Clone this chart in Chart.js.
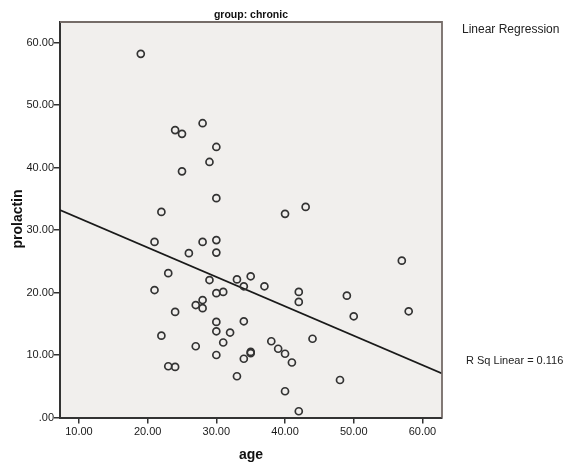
<!DOCTYPE html>
<html>
<head>
<meta charset="utf-8">
<script src="https://cdn.jsdelivr.net/npm/chart.js@4/dist/chart.umd.min.js"></script>
<style>
  html, body { margin: 0; padding: 0; background: #ffffff; }
  #wrap { width: 565px; height: 463px; }
</style>
</head>
<body>
<div id="wrap"><canvas id="scatter" width="565" height="463"></canvas></div>
<script>
const ages = [19, 28, 24, 25, 30, 29, 25, 30, 22, 21, 28, 30, 26, 30, 23, 29, 33, 21, 30, 31,
  28, 27, 28, 24, 30, 30, 32, 22, 31, 27, 30, 23, 24, 33, 40, 43, 35, 34, 37, 42,
  42, 49, 50, 34, 44, 38, 39, 40, 35, 35, 34, 41, 48, 40, 42, 57, 58];
const prolactin = [58.2, 47.1, 46.0, 45.4, 43.3, 40.9, 39.4, 35.1, 32.9, 28.1, 28.1, 28.4, 26.3, 26.4, 23.1, 22.0, 22.1, 20.4, 19.9, 20.1,
  18.8, 18.0, 17.5, 16.9, 15.3, 13.8, 13.6, 13.1, 12.0, 11.4, 10.0, 8.2, 8.1, 6.6, 32.6, 33.7, 22.6, 21.0, 21.0, 20.1,
  18.5, 19.5, 16.2, 15.4, 12.6, 12.2, 11.0, 10.2, 10.5, 10.3, 9.4, 8.8, 6.0, 4.2, 1.0, 25.1, 17.0];

// fit line ends
const fitAge = [7.24, 62.85];
const fitProlactin = [33.2, 7.05];

const xTicks = [10, 20, 30, 40, 50, 60];
const yTicks = [0, 10, 20, 30, 40, 50, 60];

const chartTitle = 'group: chronic';
const xTitle = 'age';
const yTitle = 'prolactin';
const legendTitle = 'Linear Regression';
const rSquareLabel = 'R Sq Linear = 0.116';

const points = ages.map((a, i) => ({ x: a, y: prolactin[i] }));
const fitPoints = fitAge.map((a, i) => ({ x: a, y: fitProlactin[i] }));

const fmt = (v) => (v === 0 ? '.00' : v.toFixed(2));
const fontFamily = '"Liberation Sans", Arial, sans-serif';

const framePlugin = {
  id: 'frame',
  beforeDraw(chart) {
    const { ctx, chartArea: a } = chart;
    ctx.save();
    ctx.fillStyle = '#f1efed';
    ctx.fillRect(a.left, a.top, a.right - a.left, a.bottom - a.top);
    ctx.restore();
  },
  afterDraw(chart) {
    const { ctx, chartArea: a } = chart;
    ctx.save();
    ctx.strokeStyle = '#756c68';
    ctx.lineWidth = 1.8;
    ctx.beginPath();
    ctx.moveTo(a.left, a.top);
    ctx.lineTo(a.right, a.top);
    ctx.lineTo(a.right, a.bottom);
    ctx.stroke();

    ctx.fillStyle = '#111';
    ctx.textAlign = 'center';
    ctx.textBaseline = 'middle';
    ctx.font = 'bold 10.5px ' + fontFamily;
    ctx.fillText(chartTitle, (a.left + a.right) / 2, 15);

    ctx.font = 'bold 14px ' + fontFamily;
    ctx.fillText(xTitle, (a.left + a.right) / 2, 455);
    ctx.save();
    ctx.translate(18, 219);
    ctx.rotate(-Math.PI / 2);
    ctx.fillText(yTitle, 0, 0);
    ctx.restore();

    ctx.textAlign = 'left';
    ctx.fillStyle = '#222';
    ctx.font = '12px ' + fontFamily;
    ctx.fillText(legendTitle, 462, 30);
    ctx.font = '11px ' + fontFamily;
    ctx.fillText(rSquareLabel, 466, 361);
    ctx.restore();
  },
};

new Chart(document.getElementById('scatter').getContext('2d'), {
  type: 'scatter',
  data: {
    datasets: [
      {
        label: 'prolactin',
        data: points,
        pointStyle: 'circle',
        pointRadius: 3.5,
        pointHoverRadius: 3.5,
        borderWidth: 1.7,
        borderColor: '#333',
        backgroundColor: 'rgba(0,0,0,0)',
      },
      {
        type: 'line',
        label: 'fit',
        data: fitPoints,
        pointRadius: 0,
        borderColor: '#1a1a1a',
        borderWidth: 1.7,
        fill: false,
      },
    ],
  },
  options: {
    responsive: false,
    animation: false,
    devicePixelRatio: 1,
    layout: { padding: { top: 22, right: 123, left: 0, bottom: 0 } },
    plugins: {
      legend: { display: false },
      title: { display: false },
      tooltip: { enabled: false },
    },
    scales: {
      x: {
        type: 'linear',
        min: fitAge[0],
        max: fitAge[1],
        afterFit: (s) => { s.height = 45.5; },
        afterBuildTicks: (s) => { s.ticks = xTicks.map((v) => ({ value: v })); },
        grid: { drawOnChartArea: false, drawTicks: true, tickLength: 6, color: '#333', lineWidth: 1.5 },
        border: { display: true, color: '#333', width: 2 },
        ticks: {
          padding: 2,
          color: '#1a1a1a',
          maxRotation: 0,
          font: { family: fontFamily, size: 11 },
          callback: (v) => fmt(v),
        },
      },
      y: {
        type: 'linear',
        min: 0,
        max: 63.3,
        afterFit: (s) => { s.width = 60; },
        afterBuildTicks: (s) => { s.ticks = yTicks.map((v) => ({ value: v })); },
        grid: { drawOnChartArea: false, drawTicks: true, tickLength: 6, color: '#333', lineWidth: 1.5 },
        border: { display: true, color: '#333', width: 2 },
        ticks: {
          padding: 0,
          color: '#1a1a1a',
          font: { family: fontFamily, size: 11 },
          callback: (v) => fmt(v),
        },
      },
    },
  },
  plugins: [framePlugin],
});
</script>
</body>
</html>
